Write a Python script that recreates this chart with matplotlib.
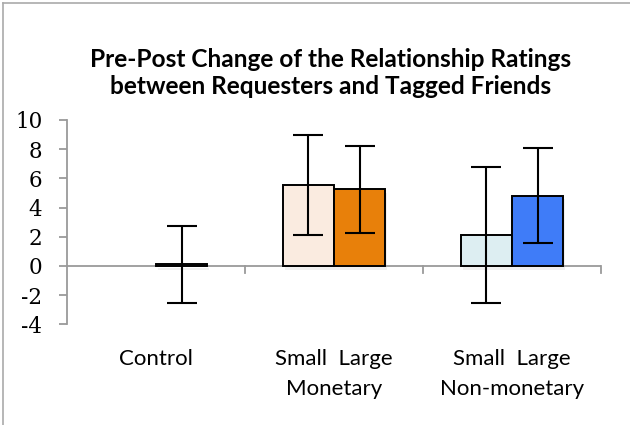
import matplotlib
matplotlib.use("Agg")
import matplotlib.pyplot as plt
from matplotlib.lines import Line2D
from matplotlib.transforms import blended_transform_factory

# ---- data ----
groups = ["Control", "Monetary", "Non-monetary"]
label_line1 = ["Control", "Small  Large", "Small  Large"]
label_line2 = ["", "Monetary", "Non-monetary"]
# bars: group index, slot (0 = small, 1 = large), value, error range, colour
bar_group = [0, 1, 1, 2, 2]
bar_slot = [1, 0, 1, 0, 1]
bar_values = [0.12, 5.55, 5.28, 2.12, 4.82]
err_low = [-2.56, 2.10, 2.26, -2.54, 1.58]
err_high = [2.74, 8.96, 8.25, 6.81, 8.07]
bar_colors = ["#9a9a9a", "#FAEBE0", "#E8800A", "#DDEEF2", "#3F7CF8"]
yticks = [-4, -2, 0, 2, 4, 6, 8, 10]
title_lines = ["Pre-Post Change of the Relationship Ratings",
               "between Requesters and Tagged Friends"]

W, H = 630, 425
fig = plt.figure(figsize=(W / 100, H / 100), dpi=100)
ax = fig.add_axes([67 / W, 1 - 324.3 / H, (601 - 67) / W, (324.3 - 120) / H])

bw = 0.287
xs = [g + (-bw / 2 if s == 0 else bw / 2) for g, s in zip(bar_group, bar_slot)]

# subtle shadows
for x, v in zip(xs, bar_values):
    ax.bar(x + 0.012, v, width=bw, bottom=-0.25, color="#000000", alpha=0.06,
           linewidth=0, zorder=1)

ax.bar(xs, bar_values, width=bw, color=bar_colors, edgecolor="black",
       linewidth=1.4, zorder=3)

yerr_lo = [v - lo for v, lo in zip(bar_values, err_low)]
yerr_hi = [hi - v for v, hi in zip(bar_values, err_high)]
ax.errorbar(xs, bar_values, yerr=[yerr_lo, yerr_hi], fmt="none",
            ecolor="black", elinewidth=1.5, capsize=11, capthick=1.5, zorder=4)

ax.set_xlim(-0.5, 2.5)
ax.set_ylim(-4, 10)

for s in ["top", "right", "bottom"]:
    ax.spines[s].set_visible(False)
ax.spines["left"].set_color("#9a9a9a")
ax.spines["left"].set_linewidth(1.3)

# x axis at zero with downward ticks at category boundaries
ax.axhline(0, color="#9a9a9a", linewidth=1.3, zorder=2)
for b in [0.5, 1.5, 2.5]:
    ax.plot([b, b], [0, -0.5], color="#9a9a9a", linewidth=1.3, zorder=2,
            clip_on=False)

ax.set_xticks([])
ax.set_yticks(yticks)
ax.set_yticklabels([str(t) for t in yticks], fontfamily="DejaVu Serif",
                   fontsize=15.5)
ax.tick_params(axis="y", length=5.8, width=1.3, color="#9a9a9a", pad=12)

tr = blended_transform_factory(ax.transData, fig.transFigure)
for i in range(len(groups)):
    ax.text(i, 1 - 365 / H, label_line1[i], ha="center", va="baseline",
            fontsize=16, fontfamily="Lato", transform=tr)
    if label_line2[i]:
        ax.text(i, 1 - 395 / H, label_line2[i], ha="center", va="baseline",
                fontsize=16, fontfamily="Lato", transform=tr)

fig.text(331 / W, 1 - 67 / H, title_lines[0], ha="center", va="baseline",
         fontsize=17.6, fontweight="bold", fontfamily="Lato")
fig.text(331 / W, 1 - 94 / H, title_lines[1], ha="center", va="baseline",
         fontsize=17.6, fontweight="bold", fontfamily="Lato")

# figure frame lines (left and top)
fig.add_artist(Line2D([2.5 / W, 2.5 / W], [0, 1 - 2.5 / H], color="#aaaaaa",
                      linewidth=1.2, transform=fig.transFigure))
fig.add_artist(Line2D([2.5 / W, 1], [1 - 2.5 / H, 1 - 2.5 / H], color="#aaaaaa",
                      linewidth=1.2, transform=fig.transFigure))

fig.savefig("out.png", dpi=100)
